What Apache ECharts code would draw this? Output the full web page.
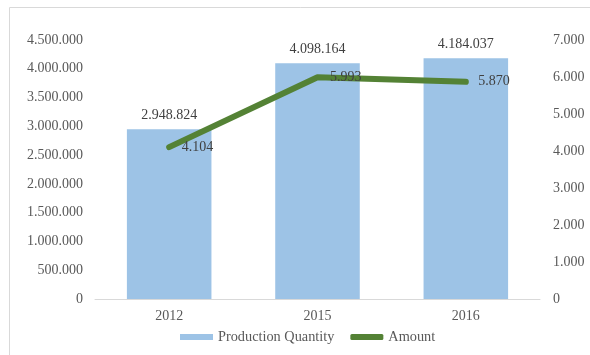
<!DOCTYPE html>
<html>
<head>
<meta charset="utf-8">
<script src="https://cdn.jsdelivr.net/npm/echarts@6/dist/echarts.min.js"></script>
<style>
  html, body { margin: 0; padding: 0; background: #fff; }
  #chart { width: 590px; height: 355px; }
</style>
</head>
<body>
<div id="chart"></div>
<script>
// data
var years = ['2012', '2015', '2016'];
var quantity = [2948824, 4098164, 4184037];
var amount = [4104, 5993, 5870];

// thousands with dots, like 4.500.000
function dots(v) {
  return String(v).replace(/\B(?=(\d{3})+(?!\d))/g, '.');
}

var font = 'Liberation Serif';
var myChart = echarts.init(document.getElementById('chart'));

var option = {
  animation: false,
  textStyle: { fontFamily: font },
  graphic: [{
    type: 'rect',
    shape: { x: 9.5, y: 7.5, width: 620, height: 400 },
    style: { fill: 'none', stroke: '#d9d9d9', lineWidth: 1 },
    silent: true
  }],
  grid: { left: 95, right: 50, top: 40, bottom: 56 },
  legend: {
    bottom: 6,
    left: 175,
    itemWidth: 33,
    itemHeight: 6,
    itemGap: 16,
    textStyle: { fontFamily: font, fontSize: 14.3, color: '#595959' },
    data: [
      { name: 'Production Quantity', icon: 'rect' },
      { name: 'Amount', icon: 'roundRect' }
    ]
  },
  xAxis: {
    type: 'category',
    data: years,
    axisLine: { lineStyle: { color: '#d9d9d9' } },
    axisTick: { show: false },
    axisLabel: { color: '#595959', fontFamily: font, fontSize: 14, margin: 10 }
  },
  yAxis: [
    {
      type: 'value',
      min: 0,
      max: 4500000,
      interval: 500000,
      splitLine: { show: false },
      axisLine: { show: false },
      axisLabel: { color: '#595959', fontFamily: font, fontSize: 14, margin: 12, formatter: dots }
    },
    {
      type: 'value',
      min: 0,
      max: 7000,
      interval: 1000,
      splitLine: { show: false },
      axisLine: { show: false },
      axisLabel: { color: '#595959', fontFamily: font, fontSize: 14, margin: 13, formatter: dots }
    }
  ],
  series: [
    {
      name: 'Production Quantity',
      type: 'bar',
      data: quantity,
      barWidth: '57%',
      itemStyle: { color: '#9dc3e6' },
      label: {
        show: true,
        position: 'top',
        distance: 7,
        color: '#404040',
        fontFamily: font,
        fontSize: 14,
        formatter: function (p) { return dots(p.value); }
      }
    },
    {
      name: 'Amount',
      type: 'line',
      yAxisIndex: 1,
      data: amount,
      symbol: 'circle',
      symbolSize: 1,
      showSymbol: true,
      itemStyle: { color: '#548235' },
      lineStyle: { color: '#548235', width: 6, cap: 'round', join: 'round' },
      label: {
        show: true,
        position: 'right',
        distance: 12,
        color: '#404040',
        fontFamily: font,
        fontSize: 14,
        formatter: function (p) { return dots(p.value); }
      }
    }
  ]
};

myChart.setOption(option);
</script>
</body>
</html>
